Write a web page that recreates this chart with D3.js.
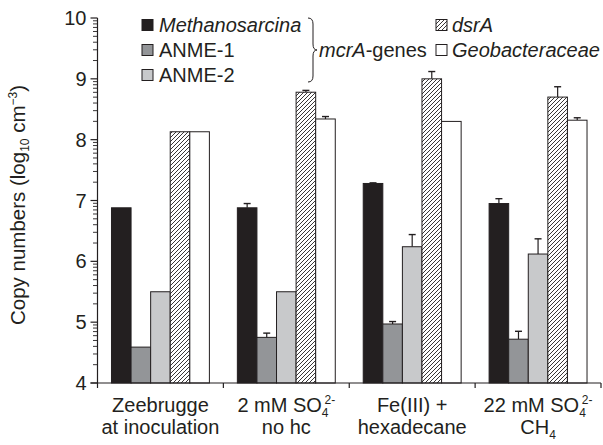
<!DOCTYPE html>
<html><head><meta charset="utf-8">
<script src="https://cdn.jsdelivr.net/npm/d3@7"></script>
<style>body{margin:0;background:#fff}svg{display:block}text{font-family:"Liberation Sans",Arial,sans-serif;fill:#231f20}</style>
</head><body><svg id="c" width="603" height="445"></svg>
<script>
const categories = ["Zeebrugge|at inoculation", "2 mM SO4|no hc", "Fe(III) +|hexadecane", "22 mM SO4|CH4"];
const seriesNames = ["Methanosarcina", "ANME-1", "ANME-2", "dsrA", "Geobacteraceae"];
const methanosarcina = [6.88, 6.88, 7.28, 6.95];
const methanosarcinaErr = [0, 0.07, 0.01, 0.08];
const anme1 = [4.59, 4.75, 4.97, 4.72];
const anme1Err = [0, 0.07, 0.04, 0.13];
const anme2 = [5.50, 5.50, 6.24, 6.12];
const anme2Err = [0, 0, 0.20, 0.25];
const dsrA = [8.13, 8.78, 9.00, 8.70];
const dsrAErr = [0, 0.03, 0.12, 0.17];
const geobacteraceae = [8.13, 8.34, 8.30, 8.32];
const geobacteraceaeErr = [0, 0.04, 0, 0.04];
const yTicks = [4, 5, 6, 7, 8, 9, 10];

(function () {
const values = [methanosarcina, anme1, anme2, dsrA, geobacteraceae];
const errs = [methanosarcinaErr, anme1Err, anme2Err, dsrAErr, geobacteraceaeErr];
const ink = "#231f20";
const fills = [ink, "#939598", "#c8c9cb", "url(#hatch)", "#ffffff"];

const svg = d3.select("#c");
const defs = svg.append("defs");
const pat = defs.append("pattern").attr("id", "hatch").attr("patternUnits", "userSpaceOnUse")
  .attr("width", 4).attr("height", 4);
pat.append("rect").attr("width", 4).attr("height", 4).attr("fill", "#fff");
pat.append("path").attr("d", "M-1,1 l2,-2 M0,4 l4,-4 M3,5 l2,-2").attr("stroke", ink).attr("stroke-width", 0.9);

const pLeft = 97.5, pRight = 601, pTop = 18, pBottom = 383;
const y = d3.scaleLinear().domain([4, 10]).range([pBottom, pTop]);
const x0 = d3.scaleBand().domain(categories).range([pLeft, pRight]).padding(0);
const x1 = d3.scaleBand().domain(seriesNames).range([0, x0.bandwidth()]).paddingInner(0).paddingOuter(0.714);

const g = svg.append("g");
categories.forEach((c, ci) => {
  seriesNames.forEach((s, si) => {
    const v = values[si][ci], e = errs[si][ci];
    const bx = x0(c) + x1(s), bw = x1.bandwidth();
    if (e > 0) {
      const cx = bx + bw / 2;
      g.append("line").attr("x1", cx).attr("x2", cx).attr("y1", y(v)).attr("y2", y(v + e)).attr("stroke", ink).attr("stroke-width", 1.2);
      g.append("line").attr("x1", cx - 3.5).attr("x2", cx + 3.5).attr("y1", y(v + e)).attr("y2", y(v + e)).attr("stroke", ink).attr("stroke-width", 1.4);
    }
    g.append("rect").attr("x", bx).attr("y", y(v)).attr("width", bw).attr("height", y(4) - y(v))
      .attr("fill", fills[si]).attr("stroke", ink).attr("stroke-width", 1);
  });
});

const ya = svg.append("g").attr("transform", `translate(${pLeft},0)`);
ya.append("line").attr("x1", 0).attr("x2", 0).attr("y1", pTop).attr("y2", pBottom).attr("stroke", ink).attr("stroke-width", 1.2);
yTicks.forEach(t => {
  ya.append("line").attr("x1", -7).attr("x2", 0).attr("y1", y(t)).attr("y2", y(t)).attr("stroke", ink).attr("stroke-width", 1.2);
  ya.append("text").attr("x", -11).attr("y", y(t)).attr("dy", "0.35em").attr("text-anchor", "end")
    .attr("font-size", 20).text(t);
  if (t < 10) {
    for (let k = 2; k <= 9; k++) {
      const v = t + Math.log10(k);
      ya.append("line").attr("x1", -4.5).attr("x2", 0).attr("y1", y(v)).attr("y2", y(v)).attr("stroke", ink).attr("stroke-width", 0.9);
    }
  }
});

const xa = svg.append("g");
xa.append("line").attr("x1", pLeft - 7).attr("x2", pRight).attr("y1", pBottom).attr("y2", pBottom).attr("stroke", ink).attr("stroke-width", 1.2);
const bounds = categories.map(c => x0(c)).concat([x0(categories[categories.length - 1]) + x0.bandwidth()]);
bounds.forEach(b => xa.append("line").attr("x1", b).attr("x2", b).attr("y1", pBottom).attr("y2", pBottom + 5).attr("stroke", ink).attr("stroke-width", 1.2));

categories.forEach((c) => {
  const cx = x0(c) + x0.bandwidth() / 2;
  const [l1, l2] = c.split("|");
  const t1 = xa.append("text").attr("x", cx).attr("y", 411.5).attr("text-anchor", "middle").attr("font-size", 20);
  if (l1.endsWith("SO4")) {
    t1.append("tspan").text(l1.slice(0, -1));
    t1.append("tspan").attr("font-size", 12).attr("dy", 5).text("4");
    t1.append("tspan").attr("font-size", 12).attr("dx", -4).attr("dy", -13).text("2-");
  } else t1.text(l1);
  const t2 = xa.append("text").attr("x", cx).attr("y", 433.5).attr("text-anchor", "middle").attr("font-size", 20);
  if (l2 === "CH4") {
    t2.append("tspan").text("CH");
    t2.append("tspan").attr("font-size", 12).attr("dy", 5).text("4");
  } else t2.text(l2);
});

const yt = svg.append("text").attr("transform", "translate(25,205) rotate(-90)").attr("text-anchor", "middle").attr("font-size", 20.5);
yt.append("tspan").text("Copy numbers (log");
yt.append("tspan").attr("font-size", 12).attr("dy", 4).text("10");
yt.append("tspan").attr("dy", -4).text(" cm");
yt.append("tspan").attr("font-size", 12).attr("dy", -8).text("\u22123");
yt.append("tspan").attr("dy", 8).text(")");

const lg = svg.append("g");
const rowY = [25, 50, 75];
[0, 1, 2].forEach((si, i) => {
  lg.append("rect").attr("x", 142).attr("y", rowY[i] - 5.5).attr("width", 11).attr("height", 11)
    .attr("fill", fills[si]).attr("stroke", ink).attr("stroke-width", 1);
  lg.append("text").attr("x", 159).attr("y", rowY[i]).attr("dy", "0.35em").attr("font-size", 20)
    .attr("font-style", si === 0 ? "italic" : "normal").text(seriesNames[si]);
});
[[3, 25], [4, 50]].forEach(([si, ry]) => {
  lg.append("rect").attr("x", 436).attr("y", ry - 5.5).attr("width", 11).attr("height", 11)
    .attr("fill", fills[si]).attr("stroke", ink).attr("stroke-width", 1);
  lg.append("text").attr("x", 452).attr("y", ry).attr("dy", "0.35em").attr("font-size", 20)
    .attr("font-style", "italic").text(seriesNames[si]);
});
lg.append("path").attr("d", "M308,18 Q313,18 313,24 L313,44 Q313,50 317,50 Q313,50 313,56 L313,76 Q313,82 308,82")
  .attr("fill", "none").attr("stroke", ink).attr("stroke-width", 1);
const mt = lg.append("text").attr("x", 319).attr("y", 50).attr("dy", "0.35em").attr("font-size", 20);
mt.append("tspan").attr("font-style", "italic").text("mcrA");
mt.append("tspan").text("-genes");
})();
</script></body></html>
